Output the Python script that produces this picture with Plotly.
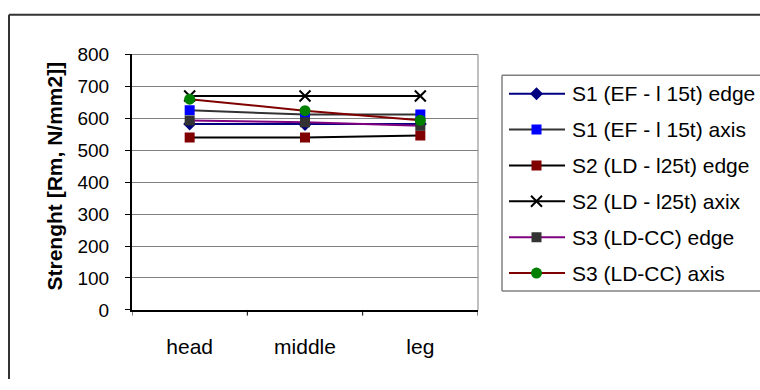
import plotly.graph_objects as go

categories = ["head", "middle", "leg"]
series_names = [
    "S1 (EF - l 15t) edge",
    "S1 (EF - l 15t) axis",
    "S2 (LD - l25t) edge",
    "S2 (LD - l25t) axix",
    "S3 (LD-CC) edge",
    "S3 (LD-CC) axis",
]
s1_edge = [582, 581, 582]
s1_axis = [625, 612, 612]
s2_edge = [540, 540, 546]
s2_axix = [670, 670, 670]
s3_edge = [593, 588, 577]
s3_axis = [660, 624, 594]
y_ticks = [0, 100, 200, 300, 400, 500, 600, 700, 800]

values = [s1_edge, s1_axis, s2_edge, s2_axix, s3_edge, s3_axis]
line_colors = ["#000080", "#333333", "#000000", "#000000", "#800080", "#800000"]
marker_colors = ["#000080", "#0000FF", "#800000", "#000000", "#333333", "#008000"]
symbols = ["diamond", "square", "square", "x-thin", "square", "circle"]
sizes = [10, 10, 10, 11, 10, 11]

W, H = 760, 390
FONT = "Liberation Sans, Arial, sans-serif"

# pixel geometry
px_l, px_r, px_t, px_b = 132, 478, 47, 317
lg_l, lg_r, lg_t, lg_b = 502, 760, 69, 297

def fx(p):
    return p / W

def fy(p):
    return (H - p) / H

fig = go.Figure()

for i, (name, vals) in enumerate(zip(series_names, values)):
    mk = dict(color=marker_colors[i], size=sizes[i], symbol=symbols[i])
    if symbols[i] == "x-thin":
        mk["line"] = dict(color=marker_colors[i], width=2)
    fig.add_trace(go.Scatter(
        x=categories, y=vals, mode="lines+markers", name=name,
        line=dict(color=line_colors[i], width=2), marker=mk,
        xaxis="x", yaxis="y", showlegend=False, hoverinfo="skip"))

# custom legend on its own axes
row0, row_gap = 88.5, 37.9
for i, name in enumerate(series_names):
    yy = row0 + i * row_gap
    mk = dict(color=marker_colors[i], size=sizes[i], symbol=symbols[i])
    if symbols[i] == "x-thin":
        mk["line"] = dict(color=marker_colors[i], width=2)
    fig.add_trace(go.Scatter(
        x=[509, 565], y=[yy, yy], mode="lines",
        line=dict(color=line_colors[i], width=2),
        xaxis="x2", yaxis="y2", showlegend=False, hoverinfo="skip"))
    fig.add_trace(go.Scatter(
        x=[536.5], y=[yy], mode="markers", marker=mk,
        xaxis="x2", yaxis="y2", showlegend=False, hoverinfo="skip"))
    fig.add_annotation(x=570, y=yy, xref="x2", yref="y2", text=name,
                       showarrow=False, xanchor="left", yanchor="middle",
                       font=dict(family=FONT, size=21, color="#000000"))

fig.update_layout(
    width=W, height=H,
    margin=dict(l=0, r=0, t=0, b=0),
    paper_bgcolor="white", plot_bgcolor="white",
    showlegend=False,
    font=dict(family=FONT, size=20, color="#000000"),
    xaxis=dict(
        domain=[fx(px_l), fx(px_r)], type="category",
        range=[-0.5, 2.5], showgrid=False, zeroline=False,
        showline=True, linecolor="#000000", linewidth=2,
        ticks="", tickfont=dict(family=FONT, size=21), anchor="y",
        ticklabelstandoff=17, fixedrange=True,
    ),
    yaxis=dict(
        domain=[fy(px_b), fy(px_t)], range=[0, 800],
        tickvals=y_ticks, showgrid=True, gridcolor="#808080", gridwidth=1,
        zeroline=False, showline=True, linecolor="#000000", linewidth=2,
        ticks="outside", ticklen=5, tickcolor="#000000", tickwidth=1,
        tickfont=dict(family=FONT, size=19), anchor="x",
        ticklabelstandoff=12, fixedrange=True,
    ),
    xaxis2=dict(domain=[fx(lg_l), 1.0], range=[lg_l, W], visible=False,
                anchor="y2", fixedrange=True),
    yaxis2=dict(domain=[fy(lg_b), fy(lg_t)], range=[lg_b, lg_t], visible=False,
                anchor="x2", fixedrange=True),
)

# category boundary tick marks on x axis
for b in [-0.5, 0.5, 1.5, 2.5]:
    fig.add_shape(type="line", xref="x", yref="paper", x0=b, x1=b,
                  y0=fy(px_b), y1=fy(px_b + 6), line=dict(color="#000000", width=1))

# plot area border (top and right, gray)
fig.add_shape(type="line", xref="paper", yref="paper", x0=fx(px_l), x1=fx(px_r),
              y0=fy(px_t), y1=fy(px_t), line=dict(color="#808080", width=1))
fig.add_shape(type="line", xref="paper", yref="paper", x0=fx(px_r), x1=fx(px_r),
              y0=fy(px_b), y1=fy(px_t), line=dict(color="#808080", width=1))

# legend box (right side runs off the image)
for (a0, b0, a1, b1) in [(lg_l, lg_t, lg_r, lg_t), (lg_l, lg_b, lg_r, lg_b),
                         (lg_l, lg_t, lg_l, lg_b)]:
    fig.add_shape(type="line", xref="paper", yref="paper",
                  x0=fx(a0), y0=fy(b0), x1=fx(a1), y1=fy(b1),
                  line=dict(color="#808080", width=1.5))

# outer chart border (only left and top visible)
fig.add_shape(type="line", xref="paper", yref="paper", x0=fx(9), x1=fx(9),
              y0=fy(5), y1=fy(H), line=dict(color="#333333", width=2))
fig.add_shape(type="line", xref="paper", yref="paper", x0=fx(9), x1=fx(W),
              y0=fy(5), y1=fy(5), line=dict(color="#333333", width=2))

# y axis title
fig.add_annotation(x=fx(55), y=fy(176), xref="paper", yref="paper",
                   text="<b>Strenght [Rm, N/mm2]]</b>", textangle=-90,
                   showarrow=False, xanchor="center", yanchor="middle",
                   font=dict(family=FONT, size=21, color="#000000"))

fig.write_html("out.html", config={"displayModeBar": False})
